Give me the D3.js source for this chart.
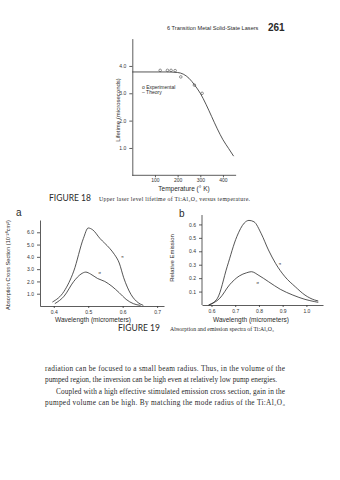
<!DOCTYPE html>
<html><head><meta charset="utf-8">
<script src="https://cdn.jsdelivr.net/npm/d3@7"></script>
<style>
html,body{margin:0;padding:0;background:#fff;}
svg{display:block;}
.ax path,.ax line{stroke:#333;stroke-width:0.8;}
.ax text{font-family:"Liberation Sans",Arial,sans-serif;font-size:5px;fill:#333;}
</style></head>
<body>
<script>
// ---------- data ----------
// Figure 18: lifetime vs temperature
const tempTheory = [0, 100, 150, 200, 225, 250, 275, 300, 325, 350, 375, 400, 425, 447];
const lifeTheory = [3.78, 3.78, 3.78, 3.76, 3.70, 3.55, 3.30, 3.00, 2.60, 2.15, 1.70, 1.30, 0.98, 0.70];
const tempExp = [123, 155, 171, 189, 214, 274, 308];
const lifeExp = [3.78, 3.78, 3.78, 3.77, 3.54, 3.24, 2.94];
const tempTicks = [100, 200, 300, 400];
const lifeTicks = [4, 3, 2, 1];
const lifeTickLabels = ["4.0", "3.0", "2.0", "1.0"];

// Figure 19a: absorption cross section
const absWlPi = [0.396, 0.43, 0.458, 0.486, 0.50, 0.513, 0.534, 0.562, 0.576, 0.59, 0.603, 0.624, 0.645, 0.66];
const absPi   = [0.32, 1.2, 2.84, 5.5, 6.35, 6.2, 5.5, 4.7, 4.2, 3.5, 2.3, 0.95, 0.27, 0.05];
const absWlSigma = [0.403, 0.43, 0.458, 0.479, 0.493, 0.507, 0.527, 0.548, 0.569, 0.59, 0.61, 0.631, 0.652];
const absSigma   = [0.19, 0.8, 2.0, 2.6, 2.76, 2.6, 2.24, 2.0, 1.6, 1.08, 0.54, 0.19, 0.05];
const absXTicks = [0.4, 0.5, 0.6, 0.7];
const absYTicks = [6, 5, 4, 3, 2, 1];

// Figure 19b: relative emission
const emWlPi = [0.588, 0.625, 0.666, 0.707, 0.738, 0.758, 0.779, 0.81, 0.84, 0.87, 0.91, 0.953, 0.994, 1.035, 1.05];
const emPi   = [0.0, 0.05, 0.285, 0.51, 0.61, 0.63, 0.62, 0.53, 0.41, 0.31, 0.21, 0.136, 0.074, 0.037, 0.03];
const emWlSigma = [0.588, 0.635, 0.676, 0.717, 0.748, 0.768, 0.8, 0.84, 0.89, 0.943, 0.994, 1.035, 1.05];
const emSigma   = [0.0, 0.05, 0.15, 0.216, 0.24, 0.248, 0.22, 0.174, 0.117, 0.074, 0.042, 0.025, 0.02];
const emXTicks = [0.6, 0.7, 0.8, 0.9, 1.0];
const emYTicks = [0.6, 0.5, 0.4, 0.3, 0.2, 0.1];

const bodyLines = [
  "radiation can be focused to a small beam radius. Thus, in the volume of the",
  "pumped region, the inversion can be high even at relatively low pump energies.",
  "Coupled with a high effective stimulated emission cross section, gain in the",
  "pumped volume can be high. By matching the mode radius of the Ti:Al\u2082O\u2083"
];

// ---------- drawing ----------
const svg = d3.select("body").append("svg").attr("width", 340).attr("height", 480);
svg.append("rect").attr("width", 340).attr("height", 480).attr("fill", "#fff");
const ink = "#2a2a2a";
const sans = "'Liberation Sans', Arial, sans-serif";
const serif = "'Liberation Serif', 'Times New Roman', serif";

// header
svg.append("text").attr("x", 167).attr("y", 30).attr("font-family", sans).attr("font-size", 5.6)
  .attr("fill", ink).text("6  Transition Metal Solid-State Lasers");
svg.append("text").attr("x", 268).attr("y", 31).attr("font-family", sans).attr("font-size", 10)
  .attr("font-weight", "bold").attr("fill", ink).text("261");

// ---- Figure 18 ----
const x18 = d3.scaleLinear().domain([0, 450]).range([132.3, 234.3]);
const y18 = d3.scaleLinear().domain([0, 5]).range([175.3, 38.6]);
const g18 = svg.append("g");
g18.append("g").attr("class", "ax").attr("transform", `translate(${x18(0)},0)`)
  .call(d3.axisLeft(y18).tickValues(lifeTicks).tickFormat((d, i) => lifeTickLabels[i]).tickSize(3).tickSizeOuter(0));
g18.append("g").attr("class", "ax").attr("transform", `translate(0,${y18(0)})`)
  .call(d3.axisBottom(x18).tickValues(tempTicks).tickSize(2).tickSizeOuter(0).tickPadding(1.5))
  .select(".domain").attr("d", `M${x18(0)},0H${x18(458)}`);
const tData = tempTheory.map((t, i) => [t, lifeTheory[i]]);
g18.append("path").attr("d", d3.line().x(d => x18(d[0])).y(d => y18(d[1])).curve(d3.curveMonotoneX)(tData))
  .attr("fill", "none").attr("stroke", ink).attr("stroke-width", 0.8);
g18.selectAll("circle").data(tempExp.map((t, i) => [t, lifeExp[i]])).join("circle")
  .attr("cx", d => x18(d[0])).attr("cy", d => y18(d[1]) - 1.6).attr("r", 1.3)
  .attr("fill", "none").attr("stroke", ink).attr("stroke-width", 0.5);
g18.append("text").attr("x", 142).attr("y", 89).attr("font-family", sans).attr("font-size", 5).attr("fill", ink).text("o Experimental");
g18.append("text").attr("x", 142).attr("y", 94).attr("font-family", sans).attr("font-size", 5).attr("fill", ink).text("\u2013 Theory");
g18.append("text").attr("transform", `translate(120,110) rotate(-90)`).attr("text-anchor", "middle")
  .attr("font-family", sans).attr("font-size", 6).attr("fill", ink).text("Lifetime (microseconds)");
g18.append("text").attr("x", 184).attr("y", 191).attr("text-anchor", "middle")
  .attr("font-family", sans).attr("font-size", 6.5).attr("fill", ink).text("Temperature (\u00b0 K)");
svg.append("text").attr("x", 49).attr("y", 201).attr("font-family", "Lato, sans-serif").attr("font-size", 8.5)
  .attr("fill", ink).text("FIGURE 18");
svg.append("text").attr("x", 99).attr("y", 201).attr("font-family", serif).attr("font-size", 5.8)
  .attr("fill", ink).attr("textLength", 151).text("Upper laser level lifetime of Ti:Al\u2082O\u2083 versus temperature.");

// ---- Figure 19a ----
const xa = d3.scaleLinear().domain([0.36, 0.72]).range([40, 164]);
const ya = d3.scaleLinear().domain([0, 7]).range([306, 220]);
const ga = svg.append("g");
ga.append("g").attr("class", "ax").attr("transform", `translate(${xa(0.36)},0)`)
  .call(d3.axisLeft(ya).tickValues(absYTicks).tickFormat(d3.format(".1f")).tickSize(3).tickSizeOuter(0));
ga.append("g").attr("class", "ax").attr("transform", `translate(0,${ya(0)})`)
  .call(d3.axisBottom(xa).tickValues(absXTicks).tickFormat(d3.format(".1f")).tickSize(2).tickSizeOuter(0).tickPadding(2));
const lineA = d3.line().x(d => xa(d[0])).y(d => ya(d[1])).curve(d3.curveMonotoneX);
ga.append("path").attr("d", lineA(absWlPi.map((w, i) => [w, absPi[i]]))).attr("fill", "none").attr("stroke", ink).attr("stroke-width", 0.8);
ga.append("path").attr("d", lineA(absWlSigma.map((w, i) => [w, absSigma[i]]))).attr("fill", "none").attr("stroke", ink).attr("stroke-width", 0.8);
ga.append("text").attr("x", xa(0.596)).attr("y", ya(3.9)).attr("font-family", serif).attr("font-size", 4.5).attr("fill", ink).text("\u03c0");
ga.append("text").attr("x", xa(0.53)).attr("y", ya(2.57)).attr("font-family", serif).attr("font-size", 4.5).attr("fill", ink).text("\u03c3");
ga.append("text").attr("x", 16).attr("y", 216).attr("font-family", sans).attr("font-size", 10).attr("fill", ink).text("a");
ga.append("text").attr("transform", `translate(10,265) rotate(-90)`).attr("text-anchor", "middle")
  .attr("font-family", sans).attr("font-size", 5.6).attr("fill", ink).text("Absorption Cross Section (10\u207b\u00b2\u2070cm\u00b2)");
ga.append("text").attr("x", 93).attr("y", 322).attr("text-anchor", "middle")
  .attr("font-family", sans).attr("font-size", 6.5).attr("fill", ink).text("Wavelength (micrometers)");

// ---- Figure 19b ----
const xb = d3.scaleLinear().domain([0.56, 1.07]).range([202, 323]);
const yb = d3.scaleLinear().domain([0, 0.7]).range([305, 211]);
const gb = svg.append("g");
gb.append("g").attr("class", "ax").attr("transform", `translate(${xb(0.56)},0)`)
  .call(d3.axisLeft(yb).tickValues(emYTicks).tickFormat(d3.format(".1f")).tickSize(3).tickSizeOuter(0))
  .select(".domain").attr("d", `M0,${yb(0)}V${yb(0.67)}`);
gb.append("g").attr("class", "ax").attr("transform", `translate(0,${yb(0)})`)
  .call(d3.axisBottom(xb).tickValues(emXTicks).tickFormat(d3.format(".1f")).tickSize(2).tickSizeOuter(0).tickPadding(2));
const lineB = d3.line().x(d => xb(d[0])).y(d => yb(d[1])).curve(d3.curveMonotoneX);
gb.append("path").attr("d", lineB(emWlPi.map((w, i) => [w, emPi[i]]))).attr("fill", "none").attr("stroke", ink).attr("stroke-width", 0.8);
gb.append("path").attr("d", lineB(emWlSigma.map((w, i) => [w, emSigma[i]]))).attr("fill", "none").attr("stroke", ink).attr("stroke-width", 0.8);
gb.append("text").attr("x", xb(0.884)).attr("y", yb(0.3)).attr("font-family", serif).attr("font-size", 4.5).attr("fill", ink).text("\u03c0");
gb.append("text").attr("x", xb(0.79)).attr("y", yb(0.16)).attr("font-family", serif).attr("font-size", 4.5).attr("fill", ink).text("\u03c3");
gb.append("text").attr("x", 179).attr("y", 217).attr("font-family", sans).attr("font-size", 10).attr("fill", ink).text("b");
gb.append("text").attr("transform", `translate(174,258) rotate(-90)`).attr("text-anchor", "middle")
  .attr("font-family", sans).attr("font-size", 6).attr("fill", ink).text("Relative Emission");
gb.append("text").attr("x", 251).attr("y", 322).attr("text-anchor", "middle")
  .attr("font-family", sans).attr("font-size", 6.5).attr("fill", ink).text("Wavelength (micrometers)");

svg.append("text").attr("x", 118).attr("y", 331).attr("font-family", "Lato, sans-serif").attr("font-size", 8.5)
  .attr("fill", ink).text("FIGURE 19");
svg.append("text").attr("x", 170).attr("y", 331).attr("font-family", serif).attr("font-size", 5.8)
  .attr("fill", ink).text("Absorption and emission spectra of Ti:Al\u2082O\u2083");

// body text
const bodyY = [371, 382, 394, 405];
const bodyX = [45, 45, 56, 45];
bodyLines.forEach((l, i) => {
  const t = svg.append("text").attr("x", bodyX[i]).attr("y", bodyY[i]).attr("font-family", serif).attr("font-size", 7.3)
    .attr("fill", ink).text(l);
  if (i !== 1) t.attr("textLength", 285 - bodyX[i]).attr("lengthAdjust", "spacing");
});
</script>
</body></html>
